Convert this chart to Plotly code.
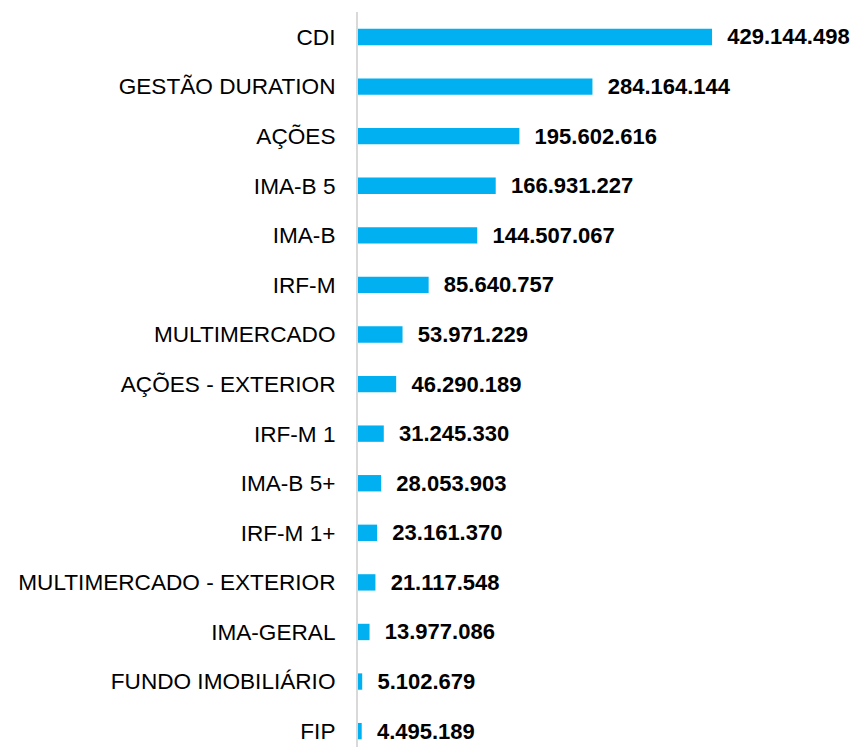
import plotly.graph_objects as go

categories = ["CDI", "GESTÃO DURATION", "AÇÕES", "IMA-B 5", "IMA-B", "IRF-M",
              "MULTIMERCADO", "AÇÕES - EXTERIOR", "IRF-M 1", "IMA-B 5+", "IRF-M 1+",
              "MULTIMERCADO - EXTERIOR", "IMA-GERAL", "FUNDO IMOBILIÁRIO", "FIP"]
values = [429144498, 284164144, 195602616, 166931227, 144507067, 85640757,
          53971229, 46290189, 31245330, 28053903, 23161370,
          21117548, 13977086, 5102679, 4495189]

labels = ["  " + f"{v:,}".replace(",", ".") for v in values]

fig = go.Figure(go.Bar(
    x=values, y=categories, orientation="h",
    marker=dict(color="#00B0F0", line=dict(width=0)),
    width=0.33,
    text=labels, textposition="outside", cliponaxis=False,
    constraintext="none",
    textfont=dict(family="Liberation Sans", size=22, color="#000000", weight="bold"),
))

fig.update_layout(
    width=853, height=747,
    margin=dict(l=358, r=0, t=12, b=0),
    paper_bgcolor="white", plot_bgcolor="white",
    showlegend=False,
    font=dict(family="Liberation Sans", color="#000000"),
    bargap=0.67,
)
fig.update_xaxes(range=[0, 600e6], visible=False, showgrid=False, zeroline=False)
fig.update_yaxes(
    type="category", range=[14.32, -0.504],
    showline=True, linecolor="#d9d9d9", linewidth=2,
    showgrid=False, zeroline=False, ticks="",
    tickfont=dict(family="Liberation Sans", size=22.6, color="#000000"),
    ticklabelstandoff=16,
)

fig.write_html("out.html")
